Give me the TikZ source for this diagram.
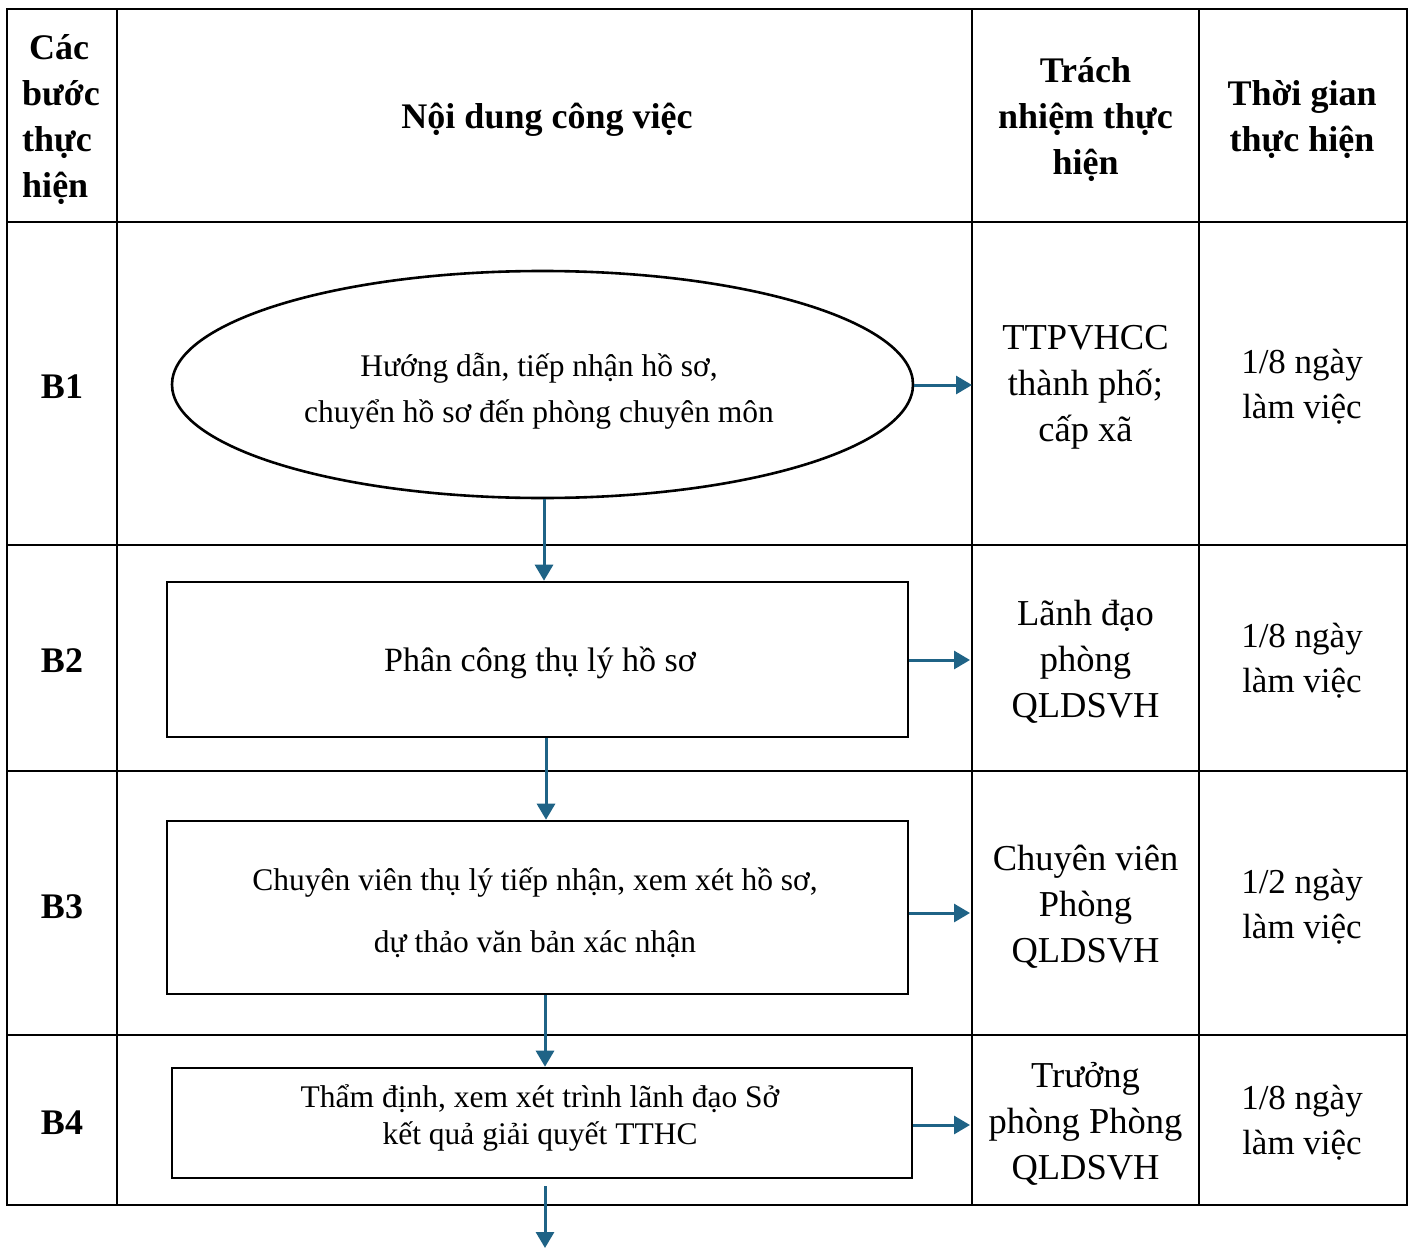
\documentclass[tikz,border=0pt]{standalone}
\usepackage{fontspec}
\setmainfont{Liberation Serif}
\usetikzlibrary{shapes.geometric,arrows.meta}
\definecolor{arrowblue}{RGB}{31,99,134}
\tikzset{
  grid/.style={line width=2.6pt, black},
  shapebox/.style={draw=black, line width=2.6pt, rectangle, inner sep=0pt},
  flowarrow/.style={draw=arrowblue, line width=3pt, -{Triangle[length=16pt,width=18pt]}},
  headtxt/.style={font={\fontsize{36}{46}\selectfont\bfseries}, align=center, inner sep=0pt},
  steptxt/.style={font={\fontsize{36}{46}\selectfont\bfseries}, inner sep=0pt},
  resptxt/.style={font={\fontsize{36.5}{46}\selectfont}, align=center, inner sep=0pt},
  timetxt/.style={font={\fontsize{35}{45}\selectfont}, align=center, inner sep=0pt},
  flowtxt/.style={inner sep=0pt, align=center},
}
\begin{document}
\begin{tikzpicture}[x=1pt, y=-1pt]
\useasboundingbox (0,0) rectangle (1412,1249);
% table
\draw[grid] (7,9) rectangle (1407,1205);
\foreach \xx in {117,972,1199} \draw[grid] (\xx,9) -- (\xx,1205);
\foreach \yy in {222,545,771,1035} \draw[grid] (7,\yy) -- (1407,\yy);
% headers
\node[headtxt, align=left] (h1) at (61,120) {\hspace{7pt}Các\\bước\\thực\\hiện};
\node[headtxt] (h2) at (547,120) {Nội dung công việc};
\node[headtxt] (h3) at (1085.5,120) {Trách\\nhiệm thực\\hiện};
\node[headtxt] (h4) at (1302,120) {Thời gian\\thực hiện};
% step labels
\node[steptxt] (s1) at (62,387) {B1};
\node[steptxt] (s2) at (62,661) {B2};
\node[steptxt] (s3) at (62,907) {B3};
\node[steptxt] (s4) at (62,1123) {B4};
% responsibility
\node[resptxt] (r1) at (1085.5,387) {TTPVHCC\\thành phố;\\cấp xã};
\node[resptxt] (r2) at (1085.5,662) {Lãnh đạo\\phòng\\QLDSVH};
\node[resptxt] (r3) at (1085.5,907) {Chuyên viên\\Phòng\\QLDSVH};
\node[resptxt] (r4) at (1085.5,1124) {Trưởng\\phòng Phòng\\QLDSVH};
% time
\node[timetxt] (t1) at (1302,387) {1/8 ngày\\làm việc};
\node[timetxt] (t2) at (1302,661) {1/8 ngày\\làm việc};
\node[timetxt] (t3) at (1302,907) {1/2 ngày\\làm việc};
\node[timetxt] (t4) at (1302,1123) {1/8 ngày\\làm việc};
% flow shapes
\node[draw=black, line width=2.6pt, ellipse, inner sep=0pt, minimum width=741pt, minimum height=227pt] (e1) at (542.5,384.5) {};
\node[flowtxt, font={\fontsize{31.5}{46}\selectfont}] (e1t) at (539,391)
      {Hướng dẫn, tiếp nhận hồ sơ,\\chuyển hồ sơ đến phòng chuyên môn};
\node[shapebox, minimum width=741pt, minimum height=155pt] (b2) at (537.5,659.5) {};
\node[flowtxt, font={\fontsize{34}{46}\selectfont}] (b2t) at (540,663) {Phân công thụ lý hồ sơ};
\node[shapebox, minimum width=741pt, minimum height=173pt] (b3) at (537.5,907.5) {};
\node[flowtxt, font={\fontsize{31.5}{62}\selectfont}] (b3t) at (535,913)
      {Chuyên viên thụ lý tiếp nhận, xem xét hồ sơ,\\dự thảo văn bản xác nhận};
\node[shapebox, minimum width=740pt, minimum height=110pt] (b4) at (542,1123) {};
\node[flowtxt, font={\fontsize{31.5}{37}\selectfont}] (b4t) at (540,1118)
      {Thẩm định, xem xét trình lãnh đạo Sở\\kết quả giải quyết TTHC};
% coordinates on the column line
\coordinate (c1) at (972,385);
\coordinate (c2) at (970,660);
\coordinate (c3) at (970,913);
\coordinate (c4) at (970,1125);
\coordinate (cend) at (545,1248);
% arrows
\draw[flowarrow] (e1.east |- c1) -- (c1);
\draw[flowarrow] (b2.east |- c2) -- (c2);
\draw[flowarrow] (b3.east |- c3) -- (c3);
\draw[flowarrow] (b4.east |- c4) -- (c4);
\draw[flowarrow] ([xshift=1.5pt]e1.south) -- ([xshift=1.5pt]e1.south |- b2.north);
\draw[flowarrow] ([xshift=8.5pt]b2.south) -- ([xshift=8.5pt]b2.south |- b3.north);
\draw[flowarrow] ([xshift=7.5pt]b3.south) -- ([xshift=7.5pt]b3.south |- b4.north);
\draw[flowarrow] ([shift={(3,7)}]b4.south) -- (cend);
\end{tikzpicture}
\end{document}
